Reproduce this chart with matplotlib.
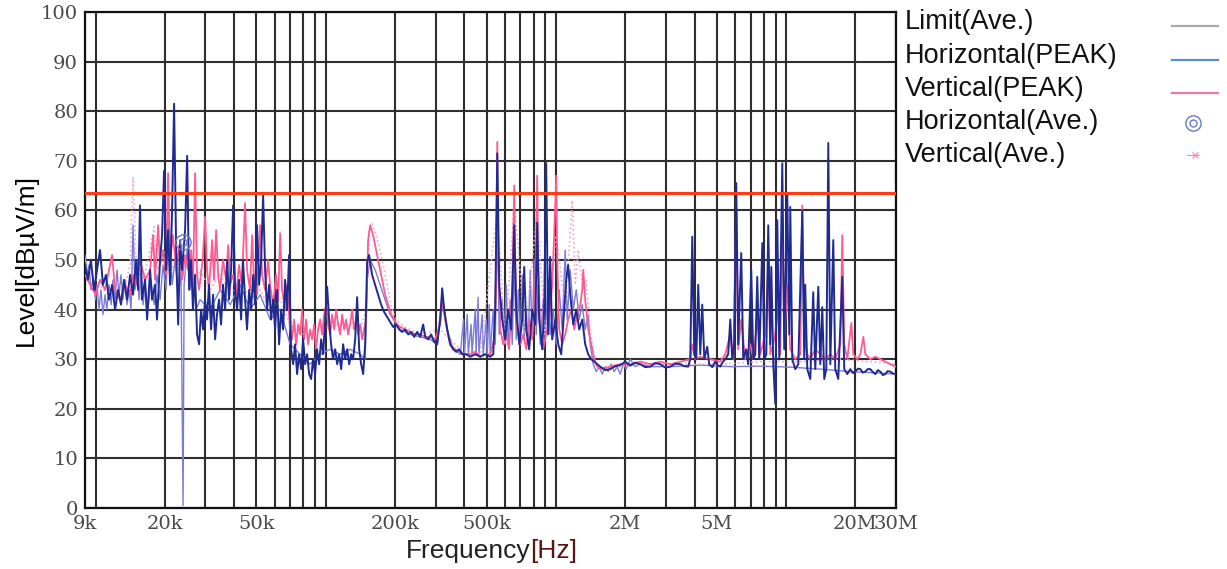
import matplotlib
matplotlib.use("Agg")
import matplotlib.pyplot as plt
from matplotlib.lines import Line2D
import numpy as np

# ---- data (frequency in kHz, level in dBuV/m) ----
limit_freq = [9, 30000]
limit_level = [63.5, 63.5]

h_peak_freq = [
    9.0, 9.27, 9.55, 9.85, 10.15, 10.46, 10.77, 11.1, 11.44, 11.8, 12.16, 12.53, 12.9, 13.3, 13.7,
    14.13, 14.55, 15.0, 15.3, 15.61, 15.9, 16.41, 16.75, 17.26, 17.6, 18.14, 18.5, 19.07, 19.45,
    19.85, 20.25, 20.66, 21.08, 21.5, 21.94, 22.4, 22.85, 23.3, 23.77, 24.49, 25.0, 25.5, 26.0,
    26.5, 27.07, 27.6, 28.17, 28.75, 29.3, 29.92, 30.5, 31.1, 31.76, 32.4, 33.07, 33.7, 34.4,
    35.1, 35.8, 36.55, 37.3, 38.0, 38.8, 39.6, 40.39, 41.2, 42.0, 42.9, 43.7, 44.64, 45.5, 46.5,
    47.4, 48.4, 49.34, 50.3, 51.35, 52.4, 53.45, 54.53, 55.6, 56.75, 57.9, 59.05, 60.27, 61.5,
    62.7, 64.0, 65.3, 66.6, 67.95, 69.3, 70.7, 72.2, 73.6, 75.1, 76.6, 78.2, 79.7, 81.4, 83.0,
    84.7, 86.4, 88.1, 89.9, 91.7, 93.6, 95.5, 97.4, 99.4, 101.4, 103.4, 105.5, 107.6, 109.9,
    112.1, 114.3, 116.7, 119, 121.4, 123.9, 126.4, 128.9, 131.5, 134.2, 136.9, 139.7, 142.5,
    145.4, 148.3, 151.3, 154.3, 159, 163.9, 168.9, 174, 179.4, 184.8, 190.5, 196.3, 202.2,
    208.4, 214.7, 221.3, 228, 235, 242.2, 249.5, 257.2, 265, 270.4, 278.6, 287, 295.8, 304.8,
    314.2, 320.5, 327, 337, 347.2, 357.8, 368.7, 380, 391.6, 407.5, 424.2, 446, 469, 493, 518,
    534, 544.7, 556, 567, 584, 602, 620, 639, 659, 672, 693, 714, 728, 743, 765, 789, 813, 829,
    846, 871, 889, 907, 925, 944, 963, 993, 1023, 1054, 1086, 1108, 1130, 1154, 1189, 1225,
    1262, 1301, 1340, 1381, 1423, 1467, 1511, 1557, 1640, 1721, 1810, 1902, 2000, 2102, 2210,
    2323, 2440, 2568, 2700, 2838, 2990, 3137, 3300, 3467, 3600, 3750, 3832, 3910, 3990, 4070,
    4150, 4235, 4320, 4410, 4540, 4630, 4780, 4920, 5040, 5173, 5300, 5440, 5600, 5718, 5830,
    5950, 6070, 6190, 6380, 6510, 6700, 6840, 7050, 7200, 7340, 7490, 7640, 7880, 8040, 8200,
    8360, 8530, 8620, 8790, 8970, 9150, 9340, 9620, 9810, 10110, 10320, 10420, 10630, 10950,
    11290, 11750, 11980, 12100, 12350, 12730, 13110, 13380, 13790, 14070, 14350, 14640, 14940,
    15240, 15550, 16020, 16340, 16840, 17530, 17880, 18430, 19000, 19500, 19960, 20500, 21000,
    21500, 22070, 22600, 23200, 23800, 24400, 25000, 25640, 26300, 26960, 27600, 28340, 29100,
    30000,
]
h_peak_level = [
    49, 46, 50, 44, 48, 52, 45, 47, 42, 45, 40, 44, 41, 46, 42,
    47, 43, 50, 44, 61, 42, 46, 38, 48, 42, 45, 38, 50, 55,
    68, 48, 56, 45, 60, 81.5, 52, 37, 54, 48, 56, 71, 44, 50,
    40, 47, 35, 33, 40, 36, 42, 38, 45, 36, 43, 34, 39, 42,
    37, 45, 40, 50, 42, 48, 61, 44, 40, 46, 38, 50, 42, 36, 44,
    40, 47, 41, 57, 45, 50, 63, 48, 40, 45, 38, 42, 36, 44,
    33, 40, 36, 46, 40, 51, 32, 29, 33, 27, 31, 28, 34, 29, 31,
    27, 26, 30, 27, 32, 29, 34, 31, 38, 44.6, 38, 33, 30, 32,
    29, 31, 28, 33, 30, 32, 29, 31, 30, 34, 42.5, 32, 29,
    27, 33, 49.6, 51, 47, 45, 43, 41, 39.5, 38.5, 37.5, 36.5, 37,
    36, 35.5, 36, 35, 35.5, 34.5, 35.5, 34.5, 37, 34.5, 34, 35, 33.5, 33,
    38, 44.3, 40, 36, 33, 32, 31.5, 32, 31, 31, 30.5, 31, 30.5, 31, 30.5,
    31, 40, 71.5, 45, 38, 34, 40, 36, 57, 40, 33, 38, 48.6, 36, 32, 40, 37, 57.5,
    38, 32, 40, 69.5, 35, 50.6, 34, 38, 33, 31, 40, 46, 49, 43, 37, 40,
    36, 38, 33, 31, 30, 29.5, 29, 28.5, 27.8, 28, 28.6, 28.8, 29.5, 28.7, 29.3,
    29, 28.4, 28.5, 29.2, 29, 28.3, 28.5, 29.1, 29, 28.6, 28.5, 30, 54.7, 31, 30,
    45, 31, 41, 30, 32.5, 29, 28.4, 29.5, 28.8, 28.5, 29.4, 30, 31, 38, 30,
    33, 65.5, 33, 51.4, 30, 32, 29, 48, 30, 31, 46.6, 30, 53.4, 30, 31,
    57, 33, 48.6, 29, 21, 58, 30, 69.5, 32, 63.5, 35, 60.7, 30, 28,
    29, 60, 30, 45, 28, 26, 43.5, 28, 44.6, 29, 40.5, 26, 28,
    73.6, 29, 54, 28, 26, 46.6, 28, 27, 28, 27.2, 27.5, 28.1, 28,
    27.3, 27.5, 28, 28, 27.4, 27, 27.8, 27.5, 26.8, 27, 27.6, 27.5, 27.1,
    27,
]

v_peak_freq = [
    9.0, 9.47, 10.0, 10.46, 11.0, 11.44, 11.8, 12.16, 12.78, 13.44, 14.13, 14.55, 15.0, 15.61,
    16.41, 17.26, 17.8, 18.14, 18.7, 19.07, 19.65, 20.25, 20.66, 21.08, 21.7, 22.4, 23.1, 23.77,
    24.49, 25.24, 26.0, 26.5, 27.07, 27.6, 28.17, 29.2, 29.92, 30.5, 31.1, 32.1, 32.7, 33.4,
    34.1, 34.76, 35.8, 36.9, 37.7, 38.42, 39.6, 40.8, 42.0, 43.2, 44.64, 45.5, 46.9, 47.9, 48.8,
    50.3, 51.9, 52.9, 54.5, 56.2, 57.3, 59.05, 60.9, 62.1, 63.4, 64.6, 66.6, 67.95, 70, 71.4,
    72.9, 74.4, 75.9, 77.4, 79.0, 80.6, 82.2, 83.8, 85.5, 87.3, 89.0, 90.8, 92.6, 94.5, 96.4,
    98.4, 100.4, 102.4, 104.5, 106.5, 108.8, 111, 113.2, 115.5, 117.8, 120.2, 122.6, 125.1,
    127.6, 130.2, 132.8, 135.5, 138.3, 141.1, 143.9, 146.9, 149.8, 152.8, 155.9, 160.6, 165.5,
    170.5, 175.7, 181.2, 186.6, 192.4, 198.2, 204.2, 210.5, 221.3, 232.7, 244.6, 257.2, 270.4,
    284, 298.8, 314, 320.5, 330, 347, 365, 384, 403.5, 424, 446, 469, 493, 518, 539, 550, 556,
    561, 573, 590, 608, 626, 646, 659, 665, 679, 700, 721, 743, 765, 789, 813, 829, 837, 854,
    880, 907, 935, 963, 982, 1003, 1013, 1033, 1065, 1097, 1130, 1165, 1201, 1237, 1275, 1301,
    1314, 1340, 1381, 1423, 1467, 1511, 1557, 1721, 1902, 2102, 2323, 2568, 2838, 3137, 3467,
    3832, 3910, 4030, 4235, 4681, 5173, 5440, 5718, 5890, 6070, 6190, 6380, 6640, 6984, 7200,
    7490, 7720, 8120, 8360, 8530, 8880, 9240, 9430, 9620, 9810, 10110, 10420, 10950, 11520,
    11750, 11980, 12350, 12730, 13380, 14070, 14790, 15550, 16340, 17190, 17530, 17880, 18430,
    19190, 19580, 20360, 21000, 21640, 22070, 23200, 24400, 25640, 26960, 28340, 30000,
]
v_peak_level = [
    47, 45, 43, 46, 44, 48, 51, 44, 42, 45, 43, 47, 45, 50,
    46, 48, 55, 46, 57, 49, 52, 47, 67.5, 50, 55, 48, 53, 46,
    51, 48, 52, 45, 67.5, 47, 44, 50, 58.7, 48, 44, 54, 46, 56,
    47, 44, 50, 46, 53, 45, 47, 43, 49, 45, 61.5, 48, 44, 55, 46,
    43, 57, 47, 44, 50, 45, 41, 47, 42, 55.4, 44, 40, 45, 36, 34,
    38, 33, 37, 35, 40, 34, 38, 33, 36, 34, 37, 32, 36, 38, 35,
    39, 41, 37, 35, 39, 36, 40, 37, 35, 39, 36, 38, 35,
    37, 40, 36, 38, 35, 37, 34, 36, 38, 54, 57, 55, 52,
    49, 46, 43, 41, 39, 38, 37, 36.5, 36, 35.5, 35, 35, 34.5,
    34.5, 34, 37, 42, 38, 33, 32, 31.5, 31, 31, 31.5, 30.5, 31, 31, 34, 48, 73.8,
    50, 36, 33, 35, 32, 45, 65, 50, 36, 33, 35, 32, 38, 34, 45, 67, 50, 36,
    32, 35, 38, 45, 55, 67, 50, 36, 33, 35, 38, 40, 36, 39, 41, 44,
    48, 42, 36, 33, 30, 28.5, 28, 28.5, 29, 29, 29.5, 29, 29.5, 29, 29.5,
    30, 33, 30, 30.5, 30, 29.5, 31, 35, 30, 60, 32, 38, 30, 33, 30,
    38, 31, 35, 50, 31, 34, 40, 31, 62, 34, 45, 32, 30, 31,
    61, 34, 31, 30, 32, 31, 30, 31, 30, 33, 55, 33, 30,
    37.3, 31, 30, 31, 34.5, 31, 30, 30.5, 30, 29.5, 29, 28.5,
]

h_ave_freq = [
    9.0, 9.2, 9.37, 9.55, 9.75, 10.0, 10.15, 10.35, 10.56, 10.77, 11.0, 11.2, 11.44, 11.7, 11.9,
    12.16, 12.4, 12.65, 12.9, 13.15, 13.44, 13.7, 14.0, 14.27, 14.55, 14.85, 15.15, 15.45, 15.77,
    16.1, 16.41, 16.9, 17.4, 17.96, 18.5, 19.07, 19.65, 20.25, 20.87, 21.5, 22.16, 22.85, 23.5,
    24.0, 24.25, 25.0, 25.75, 26.5, 27.3, 28.46, 31.45, 34.76, 38.42, 42.46, 46.93, 51.87, 57.33,
    63.36, 70, 77.4, 85.5, 94.5, 104.5, 115.5, 127.6, 141, 148.3, 151.3, 155.9, 164, 172.3, 181,
    190.5, 200, 210.5, 232.7, 257, 284, 305, 320.5, 337, 358, 384, 397, 400, 412, 416, 428, 432,
    446, 450, 459, 463, 478, 483, 498, 503, 513, 518, 534, 545, 556, 567, 584, 596, 608, 620,
    633, 646, 659, 672, 686, 700, 714, 728, 743, 758, 773, 789, 805, 821, 837, 854, 880, 898,
    925, 944, 973, 1003, 1033, 1065, 1097, 1119, 1154, 1189, 1225, 1262, 1301, 1340, 1381, 1409,
    1452, 1496, 1541, 1588, 1636, 1686, 1738, 1791, 1845, 1902, 1960, 2020, 2102, 2210, 2323,
    2568, 3137, 4235, 5718, 7719, 10421, 14070, 18995, 25645, 30000,
]
h_ave_level = [
    51, 47, 49, 44, 46, 42, 45, 40, 44, 39, 43, 40, 45, 41, 46,
    42, 48, 43, 47, 42, 46, 41, 44, 40, 57, 44, 50, 42, 48,
    41, 45, 40, 46, 41, 47, 42, 49, 44, 58, 45, 50, 43, 47,
    0.5, 45, 52, 44, 48, 40, 42, 40, 44, 41, 45, 40, 43, 38,
    40, 33, 31, 29, 31, 32, 31, 32, 31, 30, 46, 50, 48, 45, 42,
    39, 37.5, 36, 35, 34.5, 34, 33, 43, 36, 32, 31, 38, 31, 39, 31, 37, 31,
    40, 31, 42.5, 31, 39, 31, 38, 31, 41, 31, 40, 33, 60, 35, 42, 33, 45, 33,
    42, 33, 50, 34, 44, 33, 47, 34, 40, 33, 48, 34, 50, 35, 45, 33, 42, 34,
    46, 35, 40, 33, 44, 36, 52, 38, 48, 40, 44, 38, 41, 36, 39, 33,
    29, 27.5, 28.5, 27, 28.5, 27.5, 29, 27.5, 28.5, 27, 29, 28, 30, 28.5, 29,
    28.5, 28.5, 28.8, 28.5, 28.6, 28.4, 28, 27.5, 27.2, 27,
]

v_ave_freq = [
    9, 9.65, 10.46, 11.3, 12.3, 13.3, 14.13, 14.55, 15.0, 15.9, 16.9, 17.96, 18.7, 19.85, 21.08,
    22.4, 23.77, 25.24, 26.8, 28.46, 31.45, 34.76, 38.42, 42.46, 46.9, 51.9, 57.3, 63.4, 70,
    77.4, 94.5, 115.5, 141, 149.8, 154.3, 159, 165.5, 172, 179.4, 186.6, 194.3, 202, 221, 257,
    314, 384, 469, 556, 602, 659, 735, 829, 898, 1003, 1097, 1177, 1213, 1250, 1314, 1354, 1409,
    1481, 1557, 1902, 2323, 3467, 5173, 7720, 11520, 17190, 23200, 30000,
]
v_ave_level = [
    50, 47, 45, 43, 46, 44, 49, 66.8, 50, 45, 50, 56.7, 48, 52, 47,
    51, 46, 50, 45, 48, 44, 47, 43, 46, 42, 44, 40, 42, 37,
    35, 36, 37, 36, 40, 56, 57.3, 55, 52, 48, 44, 40, 38, 36.5, 35,
    36, 32, 31, 60, 33, 62, 35, 60, 35, 55, 40, 62, 45, 52, 44, 46, 36,
    29, 28, 28.5, 29, 29, 29, 29.5, 29.5, 30, 29.5, 29,
]

marker_freq = [24.0]
marker_level = [53.6]

xtick_freq = [9e3, 2e4, 5e4, 2e5, 5e5, 2e6, 5e6, 2e7, 3e7]
xtick_labels = ["9k", "20k", "50k", "200k", "500k", "2M", "5M", "20M", "30M"]

legend_labels = ["Limit(Ave.)", "Horizontal(PEAK)", "Vertical(PEAK)",
                 "Horizontal(Ave.)", "Vertical(Ave.)"]

# ---- figure ----
W, H = 1227, 569
fig = plt.figure(figsize=(W / 100, H / 100), dpi=100)
ax = fig.add_axes([85 / W, 1 - 508 / H, (896 - 85) / W, (508 - 12) / H])


def khz(v):
    return np.asarray(v, dtype=float) * 1e3


ax.plot(khz(h_ave_freq), h_ave_level, color="#7c7ad8", lw=1.0, zorder=3)
ax.plot(khz(v_ave_freq), v_ave_level, color="#f2a6c6", lw=1.2, ls=":", zorder=3)
ax.plot(khz(v_peak_freq), v_peak_level, color="#ff5a92", lw=1.3, zorder=4)
ax.plot(khz(h_peak_freq), h_peak_level, color="#1f2b92", lw=1.4, zorder=5)
ax.plot(khz(limit_freq), limit_level, color="#ff3c14", lw=2.2, zorder=6)
ax.plot(khz(marker_freq), marker_level, "o", ms=11, mfc="none", mec="#6a78c8", mew=1.0, zorder=7)
ax.plot(khz(marker_freq), marker_level, "o", ms=5, mfc="none", mec="#6a78c8", mew=1.0, zorder=7)

ax.set_xscale("log")
ax.set_xlim(9e3, 3e7)
ax.set_ylim(0, 100)
ax.set_yticks(range(0, 101, 10))
ax.set_xticks(xtick_freq)
ax.set_xticklabels(xtick_labels)
minor = [m * 10 ** e for e in range(4, 8) for m in range(1, 10)]
minor = [v for v in minor if 9e3 < v < 3e7 and v not in xtick_freq]
ax.set_xticks(minor, minor=True)
ax.xaxis.set_minor_formatter(plt.NullFormatter())

ax.grid(True, which="both", color="#2e2e2e", lw=1.5, zorder=1)
ax.set_axisbelow(True)
ax.tick_params(which="both", length=0, pad=5, labelsize=14, labelcolor="#4a4a4a")
for lab in ax.get_xticklabels() + ax.get_yticklabels():
    lab.set_fontfamily("DejaVu Serif")
for s in ax.spines.values():
    s.set_color("#111111")
    s.set_linewidth(1.6)

# axis titles
fig.text(26 / W, 1 - 260 / H, "Level[dBµV/m]", rotation=90, ha="center", va="center",
         fontsize=19, family="Liberation Sans")
fig.text(530 / W, 1 - 558 / H, "Frequency", ha="right", va="baseline",
         fontsize=19, family="Liberation Sans", color="#222222")
fig.text(530 / W, 1 - 558 / H, "[Hz]", ha="left", va="baseline",
         fontsize=19, family="Liberation Sans", color="#5a1414")

# legend drawn at the right, labels left-aligned and handles in a far column
ys = [22, 56, 89, 122, 155]
for lab, y in zip(legend_labels, ys):
    fig.text(905 / W, 1 - y / H, lab, ha="left", va="center", fontsize=19.5,
             family="Liberation Sans", color="#111111")
hx = [1172 / W, 1218 / W]
handle_colors = ["#a9a9a9", "#5b8cc4", "#e97ba2"]
for c, y in zip(handle_colors, ys[:3]):
    fig.add_artist(Line2D(hx, [1 - (y + 4) / H] * 2, color=c, lw=1.6))
cy = 1 - 123 / H
fig.add_artist(Line2D([1193 / W], [cy], marker="o", ms=11, mfc="none", mec="#6a78c8", mew=1.0))
fig.add_artist(Line2D([1193 / W], [cy], marker="o", ms=5, mfc="none", mec="#6a78c8", mew=1.0))
py = 1 - 155 / H
fig.add_artist(Line2D([1187 / W, 1199 / W], [py, py], color="#f08cb0", lw=0.8))
fig.add_artist(Line2D([1195 / W], [py], marker="x", ms=4, mec="#f08cb0", mew=0.8))

fig.savefig("out.png", dpi=100)
